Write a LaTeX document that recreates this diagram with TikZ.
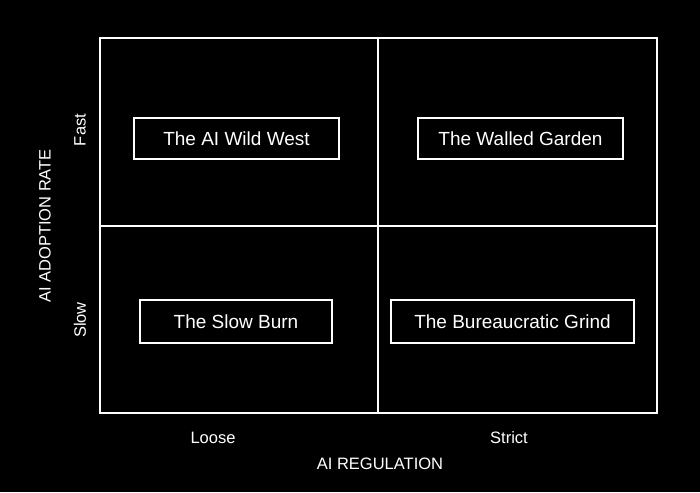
\documentclass[tikz,border=0pt]{standalone}
\usepackage{fontspec}
\setmainfont{Liberation Sans}
\begin{document}
\begin{tikzpicture}[x=1pt,y=-1pt,
 box/.style={draw=white,line width=2pt,text=white,font=\fontsize{19}{22}\selectfont,inner sep=0pt,anchor=center},
 ax/.style={text=white,font=\fontsize{16.5}{19}\selectfont},
 grid/.style={draw=white,line width=1.5pt}]
\fill[black] (0,0) rectangle (700,492);
\useasboundingbox (0,0) rectangle (700,492);
\draw[grid] (100,38) rectangle (657,413);
\draw[grid] (378,38) -- (378,413);
\draw[grid] (100,226) -- (657,226);
\node[box,minimum width=205pt,minimum height=41pt] (ww) at (236.5,138.5) {The AI Wild West};
\node[box,minimum width=205pt,minimum height=41pt] (wg) at (520.5,138.5) {The Walled Garden};
\node[box,minimum width=192pt,minimum height=43pt] (sb) at (236,321.5) {The Slow Burn};
\node[box,minimum width=243pt,minimum height=43pt] (bg) at (512.5,321.5) {The Bureaucratic Grind};
\node[ax,rotate=90] (fast) at (80,130) {Fast};
\node[ax,rotate=90] (slow) at (80,320) {Slow};
\node[ax,rotate=90] (yl) at (45,226) {AI ADOPTION RATE};
\node[ax] (lo) at (213,438) {Loose};
\node[ax] (st) at (509,438) {Strict};
\node[ax] (xl) at (380,464) {AI REGULATION};
\end{tikzpicture}
\end{document}
